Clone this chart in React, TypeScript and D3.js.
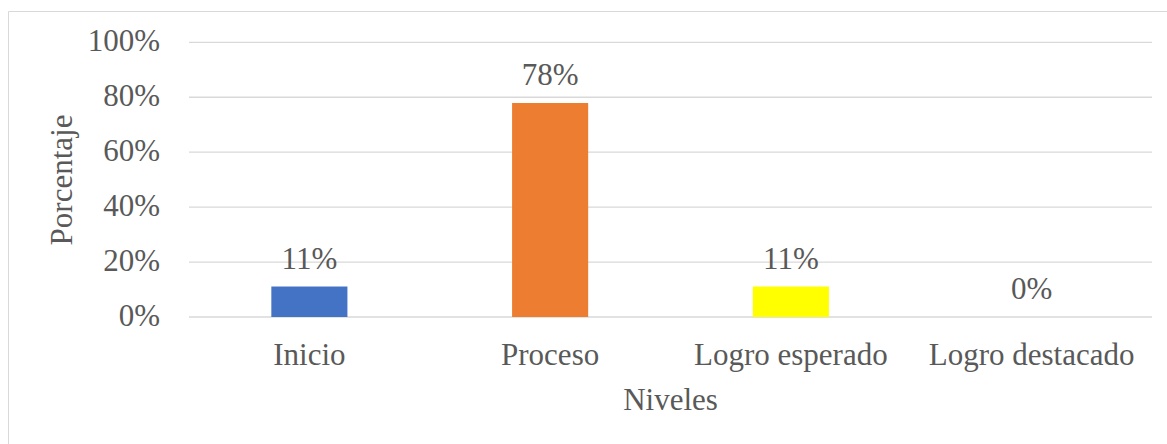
import React from "react";
import * as d3 from "d3";

const categories = ["Inicio", "Proceso", "Logro esperado", "Logro destacado"];
const values = [11.1, 77.9, 11.1, 0];
const labels = ["11%", "78%", "11%", "0%"];
const colors = ["#4472C4", "#ED7D31", "#FFFF00", "#4472C4"];
const yTicks = [0, 20, 40, 60, 80, 100];
const yTitle = "Porcentaje";
const xTitle = "Niveles";

const W = 1167;
const H = 444;
const left = 189;
const right = 1152;
const top = 42.3;
const bottom = 317;
const font = "'Liberation Serif', 'Times New Roman', serif";
const textColor = "#595959";
const fs = 31;

export default function App() {
  const x = d3.scaleBand<string>().domain(categories).range([left, right]).paddingInner(0.684).paddingOuter(0.342);
  const y = d3.scaleLinear().domain([0, 100]).range([bottom, top]);
  return (
    <svg width={W} height={H} style={{ position: "fixed", left: 0, top: 0, background: "#fff" }}>
      <rect x={0} y={0} width={W} height={H} fill="#fff" />
      <path d={`M8.5,${H + 5} V11.5 H${W + 5}`} fill="none" stroke="#D9D9D9" strokeWidth={1} />
      {yTicks.map((t) => (
        <g key={t}>
          <line x1={left} x2={right} y1={y(t)} y2={y(t)} stroke="#D9D9D9" strokeWidth={1.3} />
          <text x={160} y={y(t) + 9} textAnchor="end" fontFamily={font} fontSize={fs} fill={textColor}>
            {t}%
          </text>
        </g>
      ))}
      {categories.map((c, i) => {
        const bx = x(c)!;
        const bw = x.bandwidth();
        const cx = bx + bw / 2;
        return (
          <g key={c}>
            {values[i] > 0 && (
              <rect x={bx} y={y(values[i])} width={bw} height={y(0) - y(values[i])} fill={colors[i]} />
            )}
            <text x={cx} y={y(values[i]) - 18} textAnchor="middle" fontFamily={font} fontSize={fs} fill={textColor}>
              {labels[i]}
            </text>
            <text x={cx} y={365} textAnchor="middle" fontFamily={font} fontSize={fs} fill={textColor}>
              {c}
            </text>
          </g>
        );
      })}
      <text x={(left + right) / 2} y={410} textAnchor="middle" fontFamily={font} fontSize={fs} fill={textColor}>
        {xTitle}
      </text>
      <text
        transform={`translate(72,180) rotate(-90)`}
        textAnchor="middle"
        fontFamily={font}
        fontSize={fs}
        fill={textColor}
      >
        {yTitle}
      </text>
    </svg>
  );
}
